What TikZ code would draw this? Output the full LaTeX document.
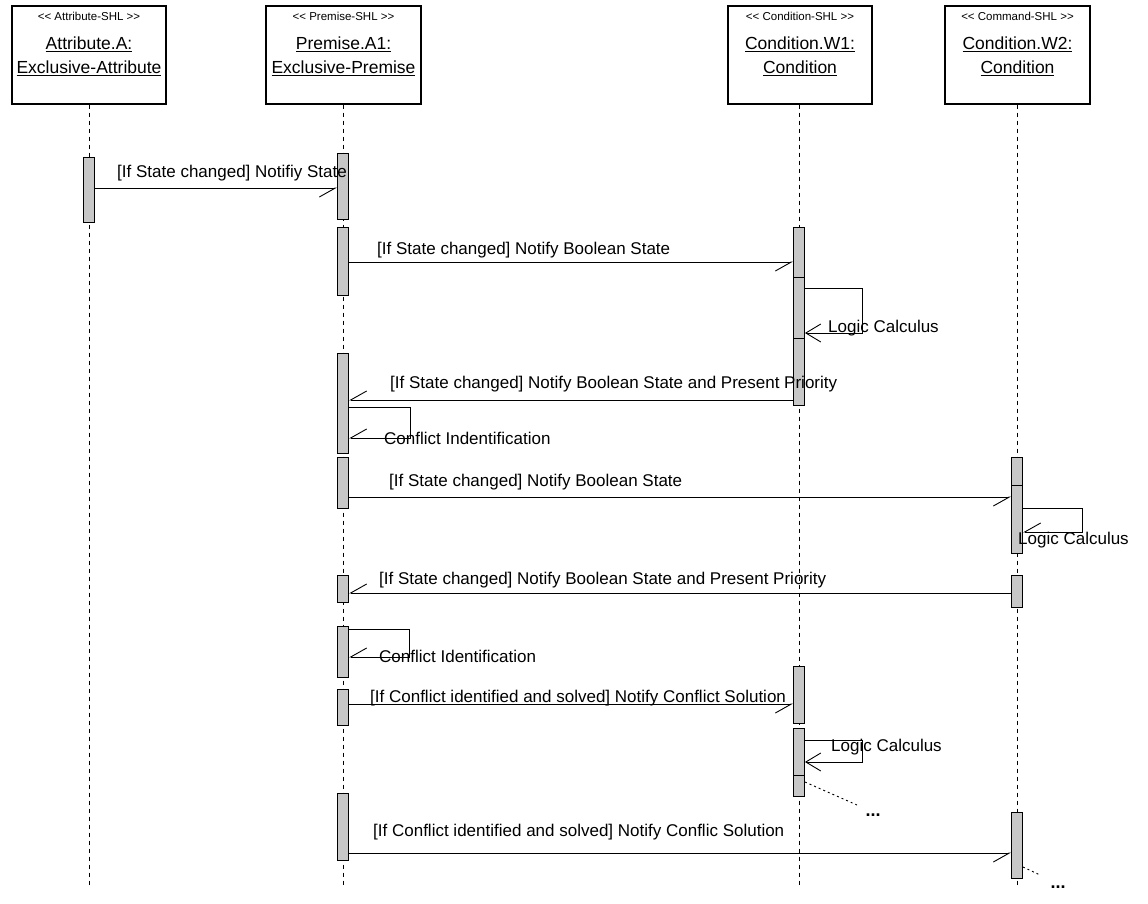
\documentclass[tikz,border=0pt]{standalone}
\usepackage{fontspec}
\setmainfont{Liberation Sans}
\usetikzlibrary{arrows.meta,positioning}

\tikzset{
  headbox/.style={draw, line width=1.2pt, minimum height=98pt, inner sep=0pt},
  stereo/.style={font=\fontsize{11.5}{13}\selectfont, inner sep=0pt},
  objname/.style={font=\fontsize{17.5}{24}\selectfont, align=center, inner sep=0pt},
  lifeline/.style={dash pattern=on 4pt off 4pt, line width=1pt},
  act/.style={draw, fill=black!22, line width=0.9pt, minimum width=11pt, inner sep=0pt},
  msg/.style={line width=0.9pt, -{Straight Barb[harpoon,swap,length=16pt,width=18pt]}},
  selfmsg/.style={line width=0.9pt, -{Straight Barb[length=15pt,width=18pt]}},
  lbl/.style={font=\fontsize{17}{20}\selectfont, anchor=west, inner sep=0pt},
  more/.style={dash pattern=on 2pt off 3pt, line width=0.9pt},
  etc/.style={font=\fontsize{18}{20}\selectfont\bfseries, inner sep=0pt},
}

% activation bar: name, x, top, bottom
\newcommand{\actbar}[4]{\node[act, minimum height={#4-#3}] (#1) at (#2,{(#3+#4)/2}) {};}

\begin{document}
\begin{tikzpicture}[x=1pt,y=-1pt]
\useasboundingbox (0,0) rectangle (1148,903);

% object boxes
\node[headbox, minimum width=154pt] (attr) at (89,55) {};
\node[headbox, minimum width=155pt] (prem) at (343.5,55) {};
\node[headbox, minimum width=144pt] (condw1) at (800,55) {};
\node[headbox, minimum width=145pt] (condw2) at (1017.5,55) {};

\node[stereo] (attrst) at (89,16) {<{}< Attribute-SHL >{}>};
\node[stereo] (premst) at (343.5,16) {<{}< Premise-SHL >{}>};
\node[stereo] (condw1st) at (800,16) {<{}< Condition-SHL >{}>};
\node[stereo] (condw2st) at (1017.5,16) {<{}< Command-SHL >{}>};

\node[objname] (attrnm) at (89,56) {\underline{Attribute.A:}\\\underline{Exclusive-Attribute}};
\node[objname] (premnm) at (343.5,56) {\underline{Premise.A1:}\\\underline{Exclusive-Premise}};
\node[objname] (condw1nm) at (800,56) {\underline{Condition.W1:}\\\underline{Condition}};
\node[objname] (condw2nm) at (1017.5,56) {\underline{Condition.W2:}\\\underline{Condition}};

% lifelines
\coordinate (attrend) at (89,885);
\coordinate (premend) at (343,885);
\coordinate (condw1end) at (799,885);
\coordinate (condw2end) at (1017,885);
\draw[lifeline] (attr.south -| attrend) -- (attrend);
\draw[lifeline] (prem.south -| premend) -- (premend);
\draw[lifeline] (condw1.south -| condw1end) -- (condw1end);
\draw[lifeline] (condw2.south -| condw2end) -- (condw2end);

% activation bars
\actbar{a1}{89}{157}{222}
\actbar{p1}{343}{153}{219}
\actbar{p2}{343}{227}{295}
\actbar{p3}{343}{353}{453}
\actbar{p4}{343}{457}{508}
\actbar{p5}{343}{575}{602}
\actbar{p6}{343}{626}{677}
\actbar{p7}{343}{689}{725}
\actbar{p8}{343}{793}{860}
\actbar{wa}{799}{227}{277}
\actbar{wb}{799}{277}{338}
\actbar{wc}{799}{338}{405}
\actbar{wd}{799}{666}{723}
\actbar{we}{799}{728}{775}
\actbar{wf}{799}{775}{796}
\actbar{va}{1017}{457}{485}
\actbar{vb}{1017}{485}{553}
\actbar{vc}{1017}{575}{607}
\actbar{vd}{1017}{812}{878}

% messages
\draw[msg] (a1.east |- 0,188) -- (p1.west |- 0,188);
\node[lbl] (m1) at (117,173) {[If State changed] Notifiy State};

\draw[msg] (p2.east |- 0,262) -- (wa.west |- 0,262);
\node[lbl] (m2) at (377,250) {[If State changed] Notify Boolean State};

\draw[selfmsg] (wb.east |- 0,288) -| (862,333) -- (wb.east |- 0,333);
\node[lbl] (m3) at (828,328) {Logic Calculus};

\draw[msg] (wc.west |- 0,400) -- (p3.east |- 0,400);
\node[lbl] (m4) at (390,384) {[If State changed] Notify Boolean State and Present Priority};

\draw[msg] (p3.east |- 0,407) -| (410,438) -- (p3.east |- 0,438);
\node[lbl] (m5) at (384,438) {Conflict Indentification};

\draw[msg] (p4.east |- 0,497) -- (vb.west |- 0,497);
\node[lbl] (m6) at (389,482) {[If State changed] Notify Boolean State};

\draw[msg] (vb.east |- 0,508) -| (1082,532) -- (vb.east |- 0,532);
\node[lbl] (m7) at (1018,540) {Logic Calculus};

\draw[msg] (vc.west |- 0,593) -- (p5.east |- 0,593);
\node[lbl] (m8) at (379,580) {[If State changed] Notify Boolean State and Present Priority};

\draw[msg] (p6.east |- 0,629) -| (409,657) -- (p6.east |- 0,657);
\node[lbl] (m9) at (379,656) {Conflict Identification};

\draw[msg] (p7.east |- 0,704) -- (wd.west |- 0,704);
\node[lbl] (m10) at (370,698) {[If Conflict identified and solved] Notify Conflict Solution};

\draw[selfmsg] (we.east |- 0,740) -| (862,762) -- (we.east |- 0,762);
\node[lbl] (m11) at (831,747) {Logic Calculus};

\draw[msg] (p8.east |- 0,853) -- (vd.west |- 0,853);
\node[lbl] (m12) at (373,832) {[If Conflict identified and solved] Notify Conflic Solution};

% continuation
\coordinate (wnext) at (857,805);
\coordinate (vnext) at (1040,875);
\draw[more] (wf.east |- 0,782) -- (wnext);
\draw[more] (vd.east |- 0,867) -- (vnext);
\node[etc] (wdots) at (873,815) {...};
\node[etc] (vdots) at (1058,887) {...};
\end{tikzpicture}
\end{document}
